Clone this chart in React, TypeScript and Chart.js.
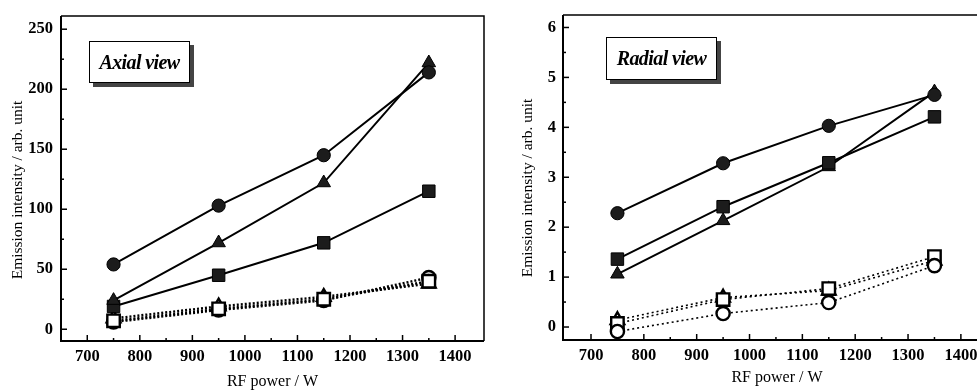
import React, { useEffect, useRef } from "react";
import { Chart, registerables } from "chart.js";

Chart.register(...registerables);

// ---------- data ----------
const rfPower = [750, 950, 1150, 1350];
const xTickValues = [700, 800, 900, 1000, 1100, 1200, 1300, 1400];

// Axial view
const axialCircleFilled = [54, 103, 145, 214];
const axialTriangleFilled = [24, 72, 122, 222];
const axialSquareFilled = [19, 45, 72, 115];
const axialCircleOpen = [6, 16, 24, 43];
const axialTriangleOpen = [9, 19, 27, 38];
const axialSquareOpen = [7, 17, 25, 40];
const axialYTicks = [0, 50, 100, 150, 200, 250];

// Radial view
const radialCircleFilled = [2.28, 3.28, 4.03, 4.65];
const radialSquareFilled = [1.36, 2.41, 3.29, 4.21];
const radialTriangleFilled = [1.06, 2.13, 3.21, 4.71];
const radialCircleOpen = [-0.09, 0.27, 0.49, 1.23];
const radialTriangleOpen = [0.14, 0.59, 0.73, 1.33];
const radialSquareOpen = [0.07, 0.55, 0.77, 1.41];
const radialYTicks = [0, 1, 2, 3, 4, 5, 6];

const yTitle = "Emission intensity / arb. unit";
const xTitle = "RF power / W";

const SERIF = '"Liberation Serif", "Times New Roman", serif';
const RIGHT_PAD = 12;

type Panel = {
  yMin: number;
  yMax: number;
  xMin: number;
  xMax: number;
  yTicks: number[];
  yWidth: number;
  xHeight: number;
  padTop: number;
  padBottom: number;
  yLabelPad: number;
  yTitleX: number;
  yTitleY: number;
  xTitleY: number;
  dotted: { width: number; dash: number[] };
};

function pts(vals: number[]) {
  return vals.map((v, i) => ({ x: rfPower[i], y: v }));
}

function ds(vals: number[], style: string, filled: boolean, dotted: { width: number; dash: number[] }) {
  const r = style === "rect" ? 8.8 : style === "triangle" ? 7.8 : 6.6;
  return {
    data: pts(vals),
    pointStyle: style,
    pointRadius: r,
    pointHoverRadius: r,
    pointBackgroundColor: filled ? "#1c1c1c" : "#ffffff",
    pointBorderColor: "#000000",
    pointBorderWidth: filled ? 1 : 2.4,
    borderColor: "#000000",
    borderWidth: filled ? 2 : dotted.width,
    borderDash: filled ? [] : dotted.dash,
    showLine: true,
    fill: false,
    tension: 0,
  };
}

function framePlugin(p: Panel) {
  return {
    id: "frameTicks",
    beforeDatasetsDraw(chart: any) {
      const { ctx, chartArea } = chart;
      const { left, right, top, bottom } = chartArea;
      const xs = chart.scales.x;
      const ys = chart.scales.y;
      ctx.save();
      ctx.strokeStyle = "#000";
      ctx.lineWidth = 1.5;
      ctx.beginPath();
      ctx.moveTo(left, top);
      ctx.lineTo(right, top);
      ctx.lineTo(right, bottom);
      ctx.stroke();
      ctx.lineWidth = 2;
      ctx.beginPath();
      ctx.moveTo(left, top);
      ctx.lineTo(left, bottom);
      ctx.lineTo(right, bottom);
      ctx.stroke();
      ctx.lineWidth = 1.5;
      for (let v = 700; v <= 1400; v += 50) {
        const px = xs.getPixelForValue(v);
        const len = v % 100 === 0 ? 6 : 3;
        ctx.beginPath();
        ctx.moveTo(px, bottom);
        ctx.lineTo(px, bottom - len);
        ctx.stroke();
      }
      const step = p.yTicks[1] - p.yTicks[0];
      const last = p.yTicks[p.yTicks.length - 1];
      for (let v = p.yTicks[0]; v <= last + 1e-9; v += step / 2) {
        const py = ys.getPixelForValue(v);
        const isMajor = Math.abs(v / step - Math.round(v / step)) < 1e-6;
        const len = isMajor ? 6 : 3;
        ctx.beginPath();
        ctx.moveTo(left, py);
        ctx.lineTo(left + len, py);
        ctx.stroke();
      }
      ctx.restore();
    },
    afterDraw(chart: any) {
      const { ctx, chartArea } = chart;
      ctx.save();
      ctx.fillStyle = "#000";
      ctx.textAlign = "center";
      ctx.textBaseline = "middle";
      ctx.font = `16px ${SERIF}`;
      ctx.fillText(xTitle, (chartArea.left + chartArea.right) / 2, p.xTitleY);
      ctx.font = `15.5px ${SERIF}`;
      ctx.translate(p.yTitleX, p.yTitleY);
      ctx.rotate(-Math.PI / 2);
      ctx.fillText(yTitle, 0, 0);
      ctx.restore();
    },
  };
}

function makeChart(canvas: HTMLCanvasElement, p: Panel, datasets: any[]) {
  return new Chart(canvas, {
    type: "scatter",
    data: { datasets },
    plugins: [framePlugin(p)],
    options: {
      animation: false,
      responsive: false,
      maintainAspectRatio: false,
      layout: { padding: { left: 0, right: RIGHT_PAD, top: p.padTop, bottom: p.padBottom } },
      plugins: { legend: { display: false }, tooltip: { enabled: false } },
      scales: {
        x: {
          type: "linear",
          min: p.xMin,
          max: p.xMax,
          grid: { display: false, drawTicks: false },
          border: { display: false },
          afterBuildTicks: (s: any) => {
            s.ticks = xTickValues.map((v) => ({ value: v }));
          },
          afterFit: (s: any) => {
            s.height = p.xHeight;
            s.paddingLeft = 0;
            s.paddingRight = 0;
            s.paddingTop = 0;
            s.paddingBottom = 0;
          },
          ticks: {
            padding: 6,
            maxRotation: 0,
            autoSkip: false,
            color: "#000",
            font: { family: SERIF, size: 16.5, weight: "bold" },
            callback: (v: any) => String(v),
          },
        },
        y: {
          type: "linear",
          min: p.yMin,
          max: p.yMax,
          grid: { display: false, drawTicks: false },
          border: { display: false },
          afterBuildTicks: (s: any) => {
            s.ticks = p.yTicks.map((v) => ({ value: v }));
          },
          afterFit: (s: any) => {
            s.width = p.yWidth;
            s.paddingLeft = 0;
            s.paddingRight = 0;
            s.paddingTop = 0;
            s.paddingBottom = 0;
          },
          ticks: {
            padding: p.yLabelPad,
            autoSkip: false,
            color: "#000",
            font: { family: SERIF, size: 16.5, weight: "bold" },
            callback: (v: any) => String(v),
          },
        },
      },
    } as any,
  });
}

const axialPanel: Panel = {
  yMin: -9.8,
  yMax: 261,
  xMin: 650,
  xMax: 1455,
  yTicks: axialYTicks,
  yWidth: 61,
  xHeight: 49,
  padTop: 16,
  padBottom: 0,
  yLabelPad: 8,
  yTitleX: 18,
  yTitleY: 190,
  xTitleY: 382,
  dotted: { width: 2.4, dash: [2, 2] },
};

const radialPanel: Panel = {
  yMin: -0.26,
  yMax: 6.25,
  xMin: 647,
  xMax: 1457,
  yTicks: radialYTicks,
  yWidth: 73,
  xHeight: 50,
  padTop: 15,
  padBottom: 0,
  yLabelPad: 7,
  yTitleX: 38,
  yTitleY: 188,
  xTitleY: 378,
  dotted: { width: 1.6, dash: [2, 3] },
};

function ChartPanel({ left, width, panel, datasets }: { left: number; width: number; panel: Panel; datasets: any[] }) {
  const ref = useRef<HTMLCanvasElement | null>(null);
  useEffect(() => {
    if (!ref.current) return;
    const c = makeChart(ref.current, panel, datasets);
    return () => c.destroy();
  }, []);
  return (
    <canvas
      ref={ref}
      width={width}
      height={390}
      style={{ position: "absolute", left, top: 0, width, height: 390 }}
    />
  );
}

function Label({ text, left, top, width, height }: { text: string; left: number; top: number; width: number; height: number }) {
  return (
    <div
      style={{
        position: "absolute",
        left,
        top,
        width,
        height,
        boxSizing: "border-box",
        border: "1.5px solid #000",
        background: "#fff",
        boxShadow: "4px 4px 0 #444",
        display: "flex",
        alignItems: "center",
        justifyContent: "center",
        fontFamily: SERIF,
        fontStyle: "italic",
        fontWeight: "bold",
        fontSize: 20,
        letterSpacing: -0.6,
        color: "#000",
      }}
    >
      {text}
    </div>
  );
}

export default function App() {
  const ad = axialPanel.dotted;
  const rd = radialPanel.dotted;
  const axialSets = [
    ds(axialCircleFilled, "circle", true, ad),
    ds(axialTriangleFilled, "triangle", true, ad),
    ds(axialSquareFilled, "rect", true, ad),
    ds(axialSquareOpen, "rect", false, ad),
    ds(axialTriangleOpen, "triangle", false, ad),
    ds(axialCircleOpen, "circle", false, ad),
  ];
  const radialSets = [
    ds(radialCircleFilled, "circle", true, rd),
    ds(radialSquareFilled, "rect", true, rd),
    ds(radialTriangleFilled, "triangle", true, rd),
    ds(radialCircleOpen, "circle", false, rd),
    ds(radialSquareOpen, "rect", false, rd),
    ds(radialTriangleOpen, "triangle", false, rd),
  ];
  return (
    <div
      style={{
        position: "fixed",
        left: 0,
        top: 0,
        width: 977,
        height: 390,
        overflow: "hidden",
        background: "#fff",
      }}
    >
      <ChartPanel left={0} width={484 + RIGHT_PAD} panel={axialPanel} datasets={axialSets} />
      <ChartPanel left={490} width={501 + RIGHT_PAD} panel={radialPanel} datasets={radialSets} />
      <Label text="Axial view" left={89} top={41} width={101} height={42} />
      <Label text="Radial view" left={606} top={37} width={111} height={43} />
    </div>
  );
}
